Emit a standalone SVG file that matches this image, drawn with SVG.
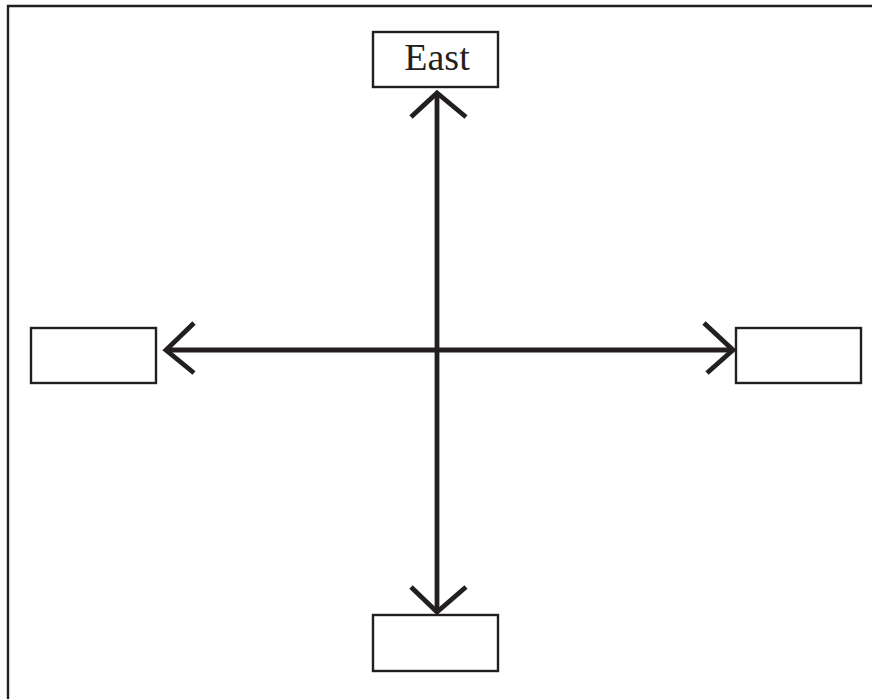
<svg xmlns="http://www.w3.org/2000/svg" width="872" height="699" viewBox="0 0 872 699">
<style>
.box{fill:#fff;stroke:#231f20;stroke-width:2.4}
.frame{fill:none;stroke:#231f20;stroke-width:2.4}
.conn{fill:none;stroke:#231f20;stroke-width:4.8;stroke-linecap:butt;stroke-linejoin:miter}
.lbl{font-family:"Liberation Serif","Times New Roman",serif;font-size:38px;fill:#231f20;text-anchor:middle}
</style>
<rect width="872" height="699" fill="#fff"/>
<path class="frame" d="M8,699 L8,6 L872,6"/>
<g id="connectors">
<path class="conn" d="M437,95 L437,612"/>
<path class="conn" d="M166,350 L732,350"/>
<path class="conn" d="M411,117 L437,93 L466,117"/>
<path class="conn" d="M411,587 L437,612 L466,587"/>
<path class="conn" d="M194,323 L166,350 L194,373"/>
<path class="conn" d="M704,323 L733,350 L707,373"/>
</g>
<g id="east">
<rect class="box" x="373" y="32" width="125" height="55"/>
<text class="lbl" x="437" y="70">East</text>
</g>
<g id="west">
<rect class="box" x="31" y="328" width="125" height="55"/>
</g>
<g id="right">
<rect class="box" x="736" y="328" width="125" height="55"/>
</g>
<g id="bottom">
<rect class="box" x="373" y="615" width="125" height="56"/>
</g>
</svg>
